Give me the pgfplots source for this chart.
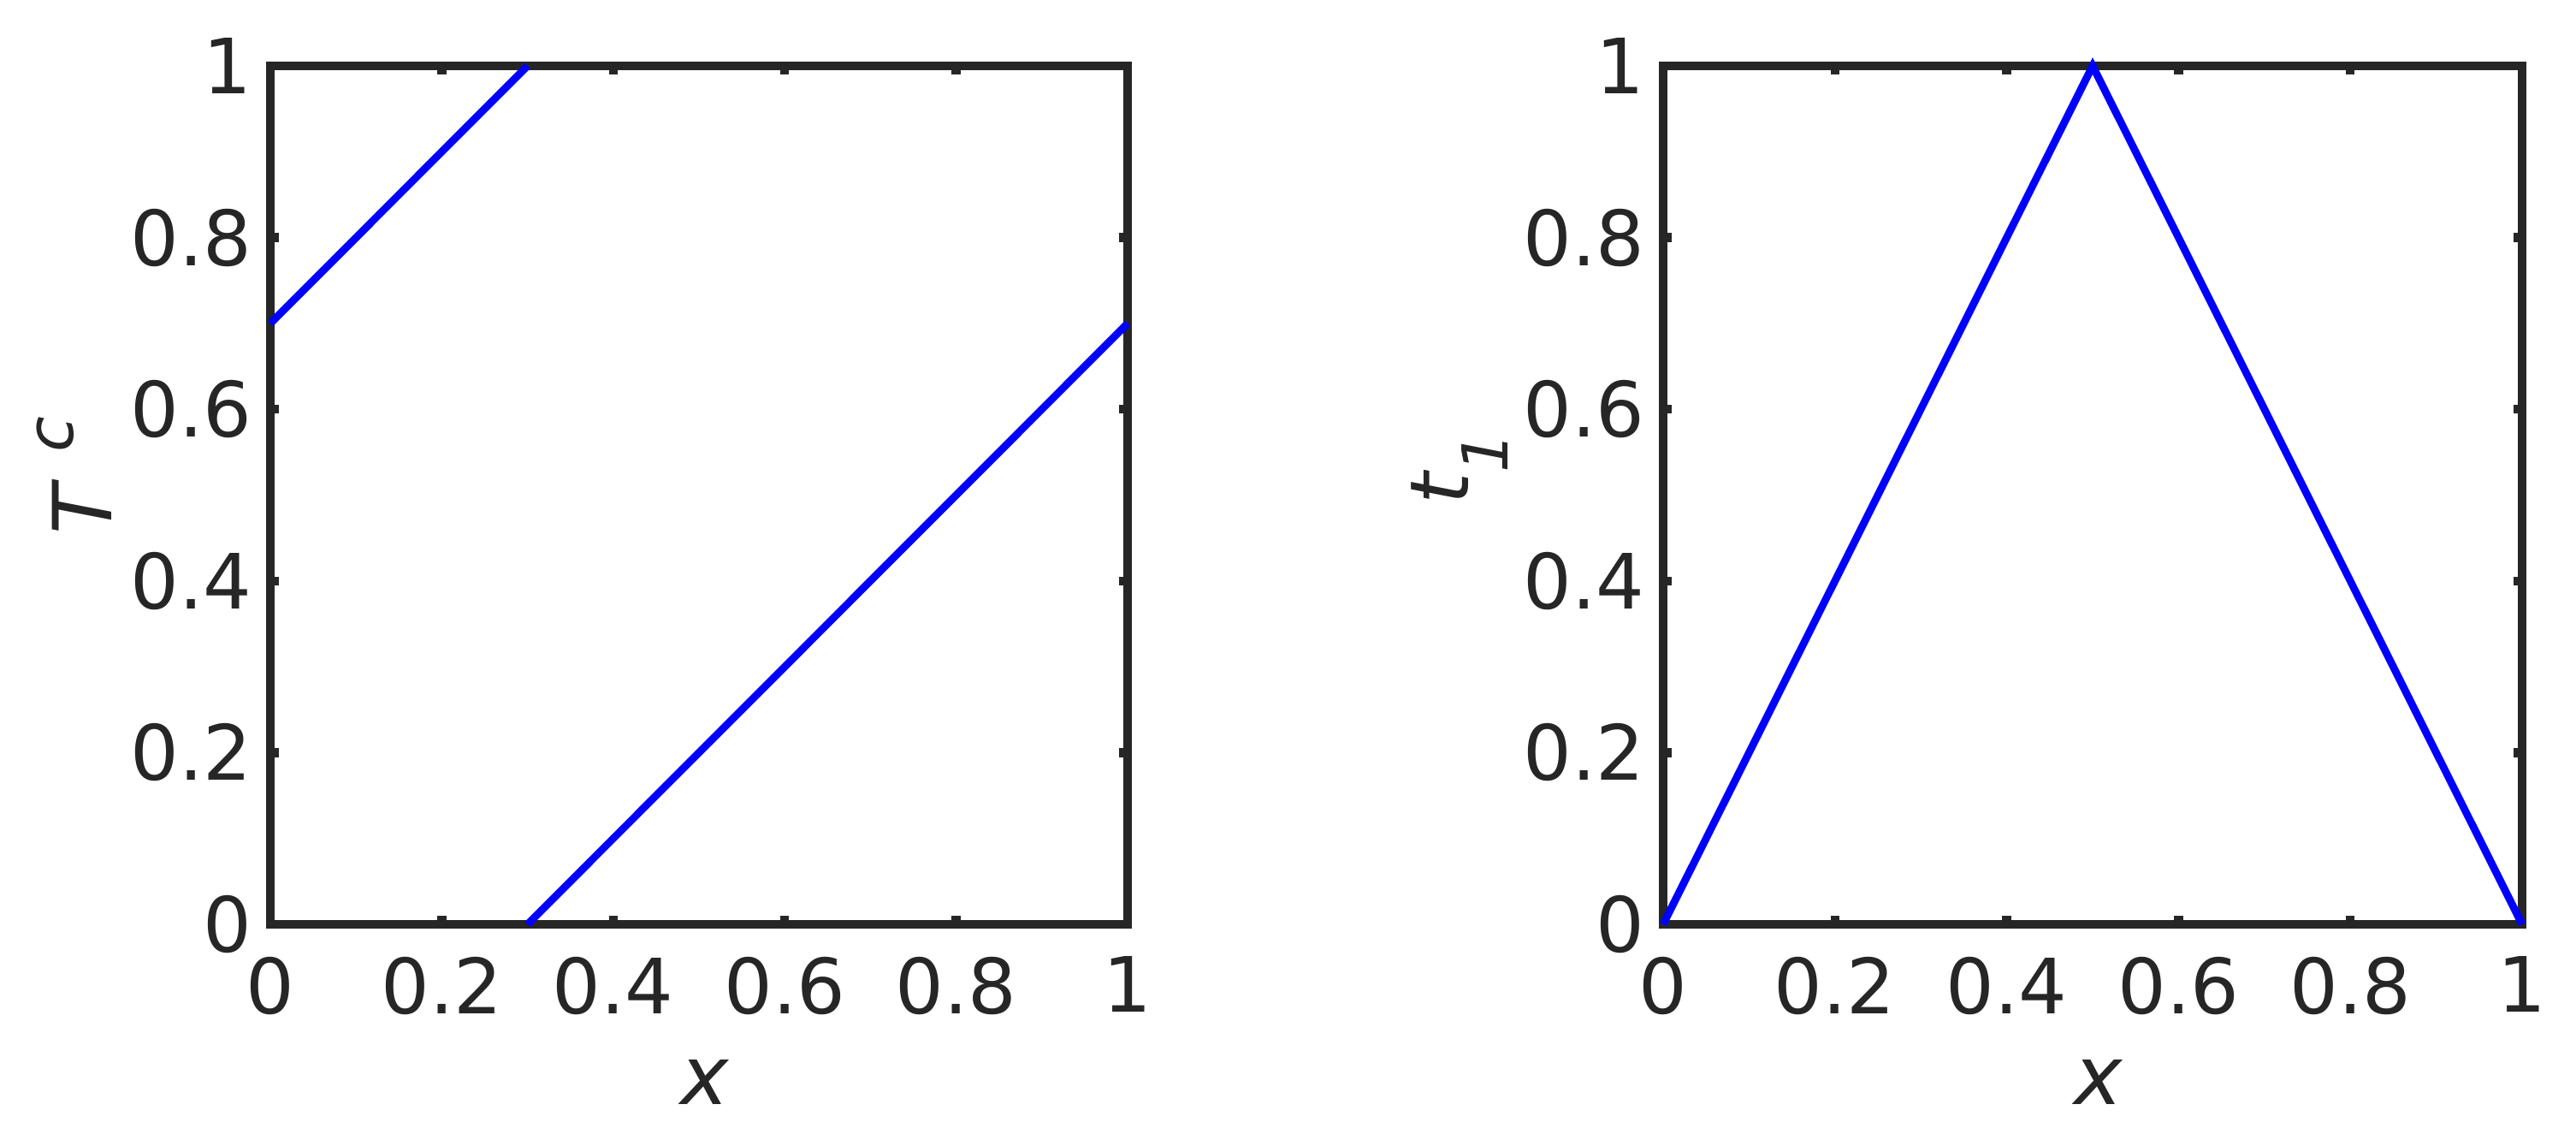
\documentclass[border=0pt]{standalone}
\usepackage{fontspec}
\setmainfont{DejaVu Sans}
\usepackage{pgfplots}
\pgfplotsset{compat=1.18}
\definecolor{axgray}{HTML}{262626}
\definecolor{mblue}{RGB}{0,0,255}
\pgfplotsset{mystyle/.style={
  scale only axis, height=250.75pt,
  xmin=0,xmax=1,ymin=0,ymax=1,
  xtick={0,0.2,0.4,0.6,0.8,1}, xticklabels={0,0.2,0.4,0.6,0.8,1},
  ytick={0,0.2,0.4,0.6,0.8,1}, yticklabels={0,0.2,0.4,0.6,0.8,1},
  tick pos=both, xticklabel pos=lower, yticklabel pos=left,
  tick align=inside, major tick length=2.5pt,
  tick style={line width=2.6pt, color=axgray},
  axis line style={line width=2.5pt, color=axgray, line cap=rect},
  tick label style={font=\fontsize{22.3}{26}\selectfont, text=axgray},
  xticklabel style={inner ysep=9.25pt},
  yticklabel style={inner xsep=5.25pt},
  label style={font=\fontsize{23.8}{28}\selectfont, text=axgray},
  xlabel style={at={(axis description cs:0.507,-0.2094)}, anchor=base},
  clip=false,
}}
\tikzset{bl/.style={mblue, line width=2.2pt, line join=miter, mark=none}}
\begin{document}
\begin{tikzpicture}
\path[use as bounding box] (-79pt,-64.75pt) rectangle (673.75pt,270pt);
\begin{axis}[mystyle, width=250.5pt,
  xlabel={\itshape x},
  ylabel={{\itshape T}\raisebox{11.25pt}{\fontsize{19}{19}\selectfont\itshape\hspace{9.5pt}c}},
  ylabel style={at={(axis description cs:-0.1856,0.4402)}, anchor=base west},
]
\addplot[bl] coordinates {(0,0.7) (0.3,1)};
\addplot[bl] coordinates {(0.3,0) (1,0.7)};
\end{axis}
\begin{axis}[mystyle, width=251pt, at={(407pt,0pt)},
  xlabel={\itshape x},
  ylabel={{\itshape t}\raisebox{-11.5pt}{\fontsize{18.5}{18.5}\selectfont\itshape 1}},
  ylabel style={at={(axis description cs:-0.2261,0.4746)}, anchor=base west},
]
\addplot[bl] coordinates {(0,0) (0.5,1) (1,0)};
\end{axis}
\end{tikzpicture}
\end{document}
